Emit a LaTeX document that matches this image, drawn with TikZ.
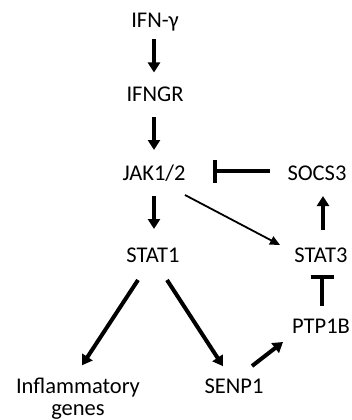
\documentclass[tikz,border=0pt]{standalone}
\usepackage{fontspec}
\setmainfont{Carlito}
\usetikzlibrary{arrows.meta,calc}
\begin{document}
\begin{tikzpicture}[x=1pt,y=-1pt,
  lbl/.style={font=\fontsize{22.5}{22}\selectfont, inner sep=0pt, anchor=base},
  thickarr/.style={line width=4pt, -{Triangle[width=12pt,length=10pt]}},
  thinarr/.style={line width=1.8pt, -{Triangle[width=9pt,length=10pt]}},
  inhib/.style={line width=4pt, -{Bar[width=23pt,line width=4pt]}}]
\useasboundingbox (0,0) rectangle (352,420);
\node[lbl] (ifn) at (155,28) {IFN-γ};
\node[lbl] (ifngr) at (155,101.5) {IFNGR};
\node[lbl] (jak) at (154,180) {JAK1/2};
\node[lbl] (socs) at (317,180) {SOCS3};
\node[lbl] (stat1) at (153,262) {STAT1};
\node[lbl] (stat3) at (321,262) {STAT3};
\node[lbl] (ptp) at (321,333) {PTP1B};
\node[lbl] (infl) at (78,393) {Inflammatory};
\node[lbl] (genes) at (78,415) {genes};
\node[lbl] (senp) at (234,393) {SENP1};
% arrows
\draw[thickarr] ($(ifn.base)+(-1,11)$) -- ($(ifngr.base)+(-1,-29)$);
\draw[thickarr] ($(ifngr.base)+(-1,15.5)$) -- ($(jak.base)+(0,-30)$);
\draw[thickarr] ($(jak.base)+(0,16)$) -- ($(stat1.base)+(1,-33)$);
\draw[inhib] ($(socs.base)+(-47,-9)$) -- ($(jak.base)+(59,-9)$);
\draw[thinarr] ($(jak.base)+(31,15)$) -- ($(stat3.base)+(-41,-17)$);
\draw[thickarr] ($(stat3.base)+(2,-32)$) -- ($(socs.base)+(6,16)$);
\draw[inhib] ($(ptp.base)+(1,-27)$) -- ($(stat3.base)+(1,13)$);
\draw[thickarr] ($(stat1.base)+(-15,18)$) -- ($(infl.north)+(4,-12)$);
\draw[thickarr] ($(stat1.base)+(14,18)$) -- ($(senp.north)+(-11,-12)$);
\draw[thickarr] ($(senp.base)+(18,-27)$) -- ($(ptp.base)+(-38,9)$);
\end{tikzpicture}
\end{document}
